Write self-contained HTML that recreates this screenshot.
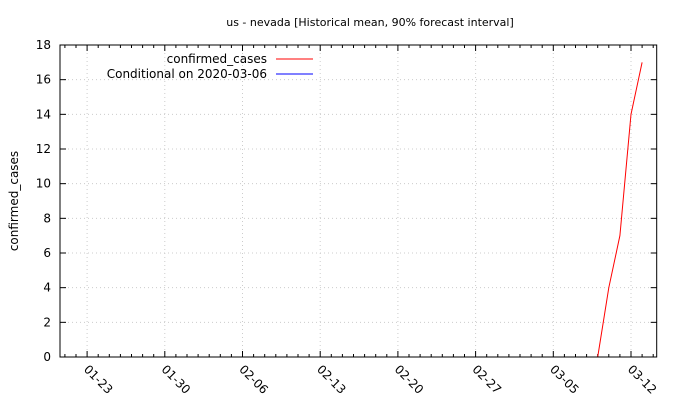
<!DOCTYPE html>
<html><head><meta charset="utf-8"><style>
body{margin:0;background:#fff}
svg{font-family:"DejaVu Sans",sans-serif;font-size:12px}
</style></head><body>
<svg id="c" width="680" height="400">
<text x="370" y="26" text-anchor="middle" font-size="11">us - nevada [Historical mean, 90% forecast interval]</text>
<text transform="translate(18,201) rotate(-90)" text-anchor="middle">confirmed_cases</text>
<g id="grid"></g><g id="axes"></g><g id="series"></g>
<rect x="60" y="45" width="596.7" height="312" fill="none" stroke="#000" stroke-width="1"/>
<g>
<text x="267" y="63" text-anchor="end">confirmed_cases</text>
<line x1="276" y1="59" x2="313" y2="59" stroke="#f00"/>
<text x="267" y="78" text-anchor="end">Conditional on 2020-03-06</text>
<line x1="276" y1="74" x2="313" y2="74" stroke="#00f"/>
</g>
</svg>
<script>
const xTickLabels=["01-23","01-30","02-06","02-13","02-20","02-27","03-05","03-12"];
const xTickDays=[0,7,14,21,28,35,42,49];
const yTicks=[0,2,4,6,8,10,12,14,16,18];
const caseDays=[46,47,48,49,50];
const caseValues=[0,4,7,14,17];
const L=60,R=656.7,T=45,B=357;
const x=d=>87.1+d*11.1;
const y=v=>B-(v/18)*(B-T);
const NS="http://www.w3.org/2000/svg";
function mk(tag,attrs,parent){const e=document.createElementNS(NS,tag);for(const k in attrs)e.setAttribute(k,attrs[k]);parent.appendChild(e);return e;}
const grid=document.getElementById('grid'),axes=document.getElementById('axes'),series=document.getElementById('series');
yTicks.forEach(v=>{
  const yy=y(v);
  if(v>0&&v<18){const g=mk('line',{x1:L,x2:R,y1:yy,y2:yy,stroke:'#ccc','stroke-dasharray':'1,3'},grid);
  
  }
  const t1=mk('line',{x1:L,x2:L+6,y1:yy,y2:yy,stroke:'#000'},axes);
  
  
  const t2=mk('line',{x1:R-6,x2:R,y1:yy,y2:yy,stroke:'#000'},axes);
  
  
  const tx=mk('text',{x:L-9,y:yy+4,'text-anchor':'end'},axes);tx.textContent=v;
  
  
});
for(let d=-2;d<=51;d++){
  const xx=x(d);if(xx<=L||xx>=R)continue;
  const len=xTickDays.includes(d)?6:3;
  const a=mk('line',{x1:xx,x2:xx,y1:B,y2:B-len,stroke:'#000'},axes);
  
  
  const b=mk('line',{x1:xx,x2:xx,y1:T,y2:T+len,stroke:'#000'},axes);
  
  
}
xTickDays.forEach((d,i)=>{
  const xx=x(d);
  const g=mk('line',{x1:xx,x2:xx,y1:T,y2:B,stroke:'#ccc','stroke-dasharray':'1,3'},grid);
  
  
  const t=mk('text',{transform:`translate(${xx-4},${B+13}) rotate(45)`},axes);t.textContent=xTickLabels[i];
  
  
});
const p=mk('polyline',{points:caseDays.map((d,i)=>x(d)+','+y(caseValues[i])).join(' '),fill:'none',stroke:'#f00','stroke-width':1},series);


</script>
</body></html>
